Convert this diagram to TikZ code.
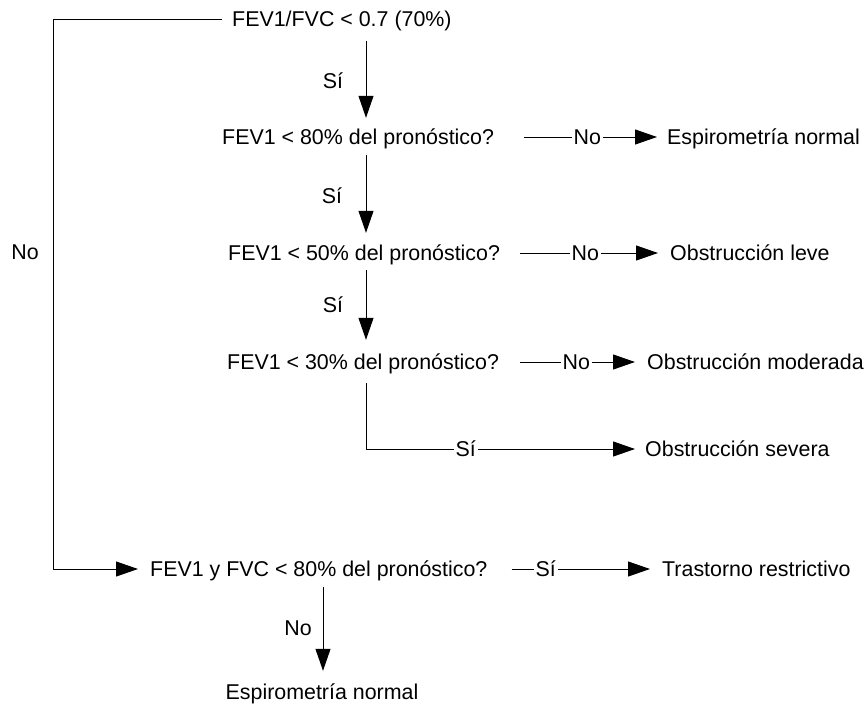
\documentclass[tikz,border=0pt]{standalone}
\usepackage{fontspec}
\setmainfont{Liberation Sans}
\usetikzlibrary{arrows.meta}
\begin{document}
\begin{tikzpicture}[x=1pt,y=-1pt,
  every node/.style={font=\fontsize{21.4}{25}\selectfont, inner sep=0pt, text height=15pt, text depth=0pt},
  txt/.style={anchor=west},
  lbl/.style={anchor=west, inner xsep=1.5pt},
  ln/.style={line width=1pt, black},
  arr/.style={line width=1pt, black, -{Triangle[length=22pt,width=15pt]}}]
\useasboundingbox (0,0) rectangle (864,704);
% nodes
\node[txt] (t1) at (232,19) {FEV1/FVC < 0.7 (70\%)};
\node[txt] (q2) at (222,137) {FEV1 < 80\% del pronóstico?};
\node[txt] (q3) at (228,253) {FEV1 < 50\% del pronóstico?};
\node[txt] (q4) at (227,362) {FEV1 < 30\% del pronóstico?};
\node[txt] (q5) at (150,569) {FEV1 y FVC < 80\% del pronóstico?};
\node[txt] (r2) at (667,137) {Espirometría normal};
\node[txt] (r3) at (670,253) {Obstrucción leve};
\node[txt] (r4) at (647,362) {Obstrucción moderada};
\node[txt] (r4s) at (645,449) {Obstrucción severa};
\node[txt] (r5) at (662,569) {Trastorno restrictivo};
\node (r6) at (322,692) {Espirometría normal};
% labels
\node[lbl] (no2) at (572,137) {No};
\node[lbl] (no3) at (570,253) {No};
\node[lbl] (no4) at (561,362) {No};
\node[lbl] (si4) at (454,449) {Sí};
\node[lbl] (si5) at (534,569) {Sí};
\node (si1) at (333,81) {Sí};
\node (si2) at (332,196) {Sí};
\node (si3) at (333,305) {Sí};
\node (noL) at (25,252) {No};
\node (no6) at (298,628) {No};
% coordinates
\coordinate (ax) at (366,0);
\coordinate (bx) at (323,0);
\coordinate (lx) at (53,0);
% left "No" branch
\draw[arr] ([xshift=-10pt]t1.west) -- (t1.west -| lx) -- (q5.west -| lx) -- ([xshift=-12pt]q5.west);
% vertical Sí arrows
\draw[arr] ([yshift=-14.5pt]t1.south -| ax) -- ([yshift=11.5pt]q2.north -| ax);
\draw[arr] ([yshift=-10.5pt]q2.south -| ax) -- ([yshift=12.5pt]q3.north -| ax);
\draw[arr] ([yshift=-9.5pt]q3.south -| ax) -- ([yshift=14.5pt]q4.north -| ax);
% No branches
\draw[ln] ([xshift=30pt]q2.east) -- (no2.west);
\draw[arr] (no2.east) -- ([xshift=-10pt]r2.west);
\draw[ln] ([xshift=20pt]q3.east) -- (no3.west);
\draw[arr] (no3.east) -- ([xshift=-12pt]r3.west);
\draw[ln] ([xshift=21pt]q4.east) -- (no4.west);
\draw[arr] (no4.east) -- ([xshift=-12pt]r4.west);
% severa
\draw[ln] ([yshift=-13.5pt]q4.south -| ax) -- (si4.west -| ax) -- (si4.west);
\draw[arr] (si4.east) -- ([xshift=-10pt]r4s.west);
% restrictivo
\draw[ln] ([xshift=24pt]q5.east) -- (si5.west);
\draw[arr] (si5.east) -- ([xshift=-12pt]r5.west);
% bottom
\draw[arr] ([yshift=-10.5pt]q5.south -| bx) -- ([yshift=13.5pt]r6.north -| bx);
\end{tikzpicture}
\end{document}
